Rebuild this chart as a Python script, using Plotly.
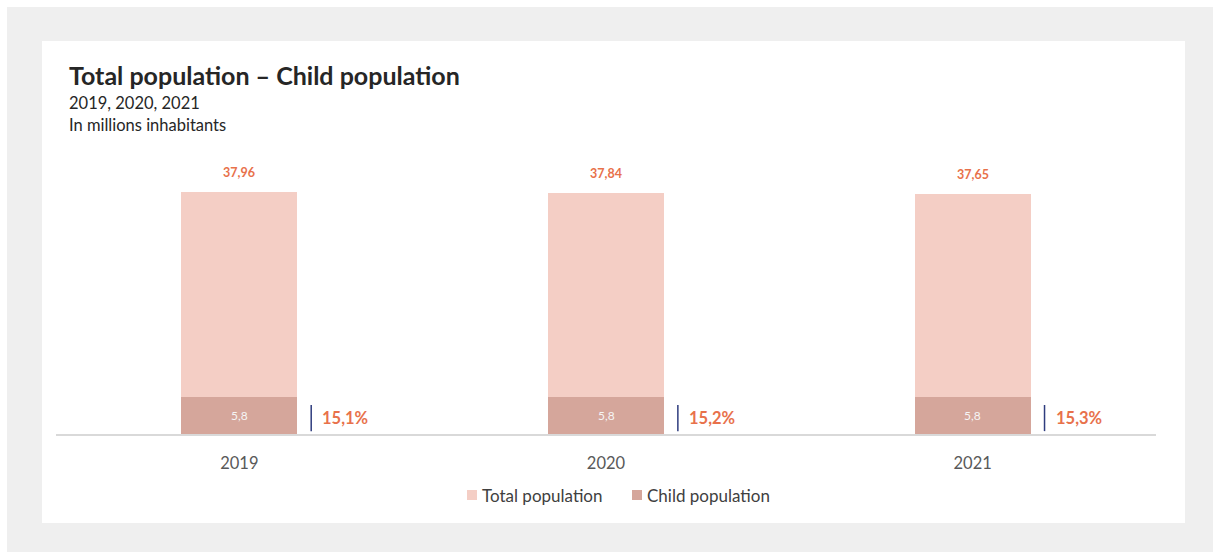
import plotly.graph_objects as go

# Data
years = ["2019", "2020", "2021"]
total_population = [37.96, 37.84, 37.65]
child_population = [5.8, 5.8, 5.8]
child_share = [15.1, 15.2, 15.3]
series_names = ["Total population", "Child population"]

W, H = 1213, 552
TOTAL_COLOR = "#F4CEC5"
CHILD_COLOR = "#D5A69B"
ACCENT = "#E8714B"
NAVY = "#2E3C7E"
FONT = "Lato"


def px_x(p):
    return p / W


def px_y(p):
    return (H - p) / H


def fmt(v, nd):
    return f"{v:.{nd}f}".replace(".", ",")


xs = list(range(len(years)))

fig = go.Figure()
fig.add_trace(go.Bar(
    x=xs, y=total_population, name=series_names[0],
    marker=dict(color=TOTAL_COLOR, line=dict(width=0)),
    width=0.316, hoverinfo="skip", showlegend=False,
))
fig.add_trace(go.Bar(
    x=xs, y=child_population, name=series_names[1],
    marker=dict(color=CHILD_COLOR, line=dict(width=0)),
    width=0.316, hoverinfo="skip", showlegend=False,
))

annotations = []
shapes = [
    # grey frame and white card
    dict(type="rect", xref="paper", yref="paper", x0=px_x(7), x1=px_x(1213),
         y0=px_y(552), y1=px_y(7), fillcolor="#EFEFEF", line=dict(width=0), layer="below"),
    dict(type="rect", xref="paper", yref="paper", x0=px_x(42), x1=px_x(1185),
         y0=px_y(523), y1=px_y(41), fillcolor="#FFFFFF", line=dict(width=0), layer="below"),
]

for i, (t, c, s) in enumerate(zip(total_population, child_population, child_share)):
    annotations.append(dict(
        x=i, y=t, xref="x", yref="y", text=f"<b>{fmt(t, 2)}</b>", showarrow=False,
        yanchor="middle", yshift=19, font=dict(family=FONT, size=12.5, color=ACCENT),
    ))
    annotations.append(dict(
        x=i, y=c / 2, xref="x", yref="y", text=fmt(c, 1), showarrow=False,
        yanchor="middle", font=dict(family=FONT, size=12, color="#F5F5F5"),
    ))
    annotations.append(dict(
        x=i + 0.289, y=2.5, xref="x", yref="y", text=f"<b>{fmt(s, 1)}%</b>", showarrow=False,
        yanchor="middle", font=dict(family=FONT, size=16.5, color=ACCENT),
    ))
    shapes.append(dict(
        type="line", xref="x", yref="y", x0=i + 0.196, x1=i + 0.196, y0=0.45, y1=4.55,
        line=dict(color=NAVY, width=1.5),
    ))

# Title block
annotations += [
    dict(x=px_x(67), y=px_y(75), xref="paper", yref="paper", xanchor="left", yanchor="middle",
         text="<b>Total population – Child population</b>", showarrow=False,
         font=dict(family=FONT, size=25, color="#262626")),
    dict(x=px_x(67), y=px_y(103), xref="paper", yref="paper", xanchor="left", yanchor="middle",
         text="2019, 2020, 2021", showarrow=False,
         font=dict(family=FONT, size=16.5, color="#262626")),
    dict(x=px_x(67), y=px_y(125), xref="paper", yref="paper", xanchor="left", yanchor="middle",
         text="In millions inhabitants", showarrow=False,
         font=dict(family=FONT, size=16.5, color="#262626")),
]

# Legend: swatch + label for each series
legend_items = [(series_names[0], TOTAL_COLOR, 467), (series_names[1], CHILD_COLOR, 632)]
for name, color, left in legend_items:
    shapes.append(dict(type="rect", xref="paper", yref="paper",
                       x0=px_x(left), x1=px_x(left + 10), y0=px_y(500), y1=px_y(490),
                       fillcolor=color, line=dict(width=0)))
    annotations.append(dict(x=px_x(left + 13), y=px_y(495), xref="paper", yref="paper",
                            xanchor="left", yanchor="middle", text=name, showarrow=False,
                            font=dict(family=FONT, size=17, color="#404040")))

fig.update_layout(
    width=W, height=H,
    margin=dict(l=0, r=0, t=0, b=0),
    paper_bgcolor="#FFFFFF", plot_bgcolor="#FFFFFF",
    barmode="overlay", bargap=0,
    showlegend=False,
    xaxis=dict(domain=[px_x(56), px_x(1156)], range=[-0.5, 2.5],
               tickvals=xs, ticktext=years, showgrid=False, zeroline=False,
               showline=True, linecolor="#D9D9D9", linewidth=2, ticks="",
               tickfont=dict(family=FONT, size=16.5, color="#595959"), ticklabelstandoff=13),
    yaxis=dict(domain=[px_y(434), px_y(147)], range=[0, 45], visible=False,
               showgrid=False, zeroline=False),
    annotations=annotations, shapes=shapes,
    font=dict(family=FONT),
)

fig.write_html("out.html")
